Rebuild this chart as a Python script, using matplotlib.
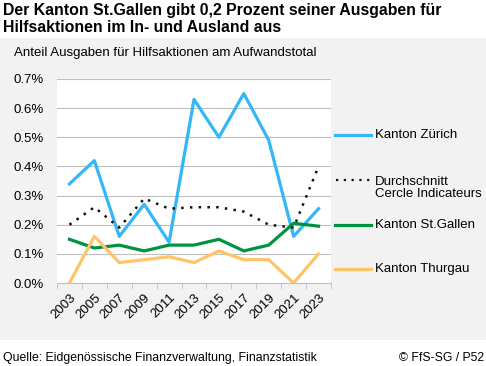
import matplotlib
matplotlib.use("Agg")
import matplotlib.pyplot as plt
from matplotlib.patches import Rectangle
from matplotlib.ticker import FuncFormatter, MultipleLocator
import numpy as np

plt.rcParams["font.family"] = ["Liberation Sans", "DejaVu Sans"]

# ── Data (share of total expenditure, in %) ──────────────────────────────────
years = ["2003", "2005", "2007", "2009", "2011", "2013", "2015", "2017",
         "2019", "2021", "2023"]
zuerich = [0.34, 0.42, 0.16, 0.27, 0.14, 0.63, 0.50, 0.65, 0.49, 0.16, 0.255]
cercle = [0.20, 0.26, 0.19, 0.29, 0.255, 0.26, 0.26, 0.245, 0.20, 0.19, 0.40]
stgallen = [0.15, 0.12, 0.13, 0.11, 0.13, 0.13, 0.15, 0.11, 0.13, 0.205, 0.195]
thurgau = [0.00, 0.16, 0.07, 0.08, 0.09, 0.07, 0.11, 0.08, 0.08, 0.00, 0.10]

C_ZH = "#33b7f7"
C_CI = "#111111"
C_SG = "#00923f"
C_TG = "#ffc466"
BG = "#f2f2f2"
FS = 9.5

W, H = 486, 366
fig = plt.figure(figsize=(W / 100, H / 100), dpi=100)
fig.patch.set_facecolor("white")


def fx(px):
    return px / W


def fy(py):
    return 1 - py / H


# grey panel behind the chart
fig.patches.append(Rectangle((0, fy(340)), 1, (340 - 38) / H,
                             transform=fig.transFigure, facecolor=BG,
                             edgecolor="none", zorder=-5))

fig.text(fx(3), fy(10), "Der Kanton St.Gallen gibt 0,2 Prozent seiner Ausgaben für",
         fontsize=11.4, fontweight="bold", va="center", ha="left")
fig.text(fx(3), fy(27), "Hilfsaktionen im In- und Ausland aus",
         fontsize=11.4, fontweight="bold", va="center", ha="left")
fig.text(fx(14), fy(53), "Anteil Ausgaben für Hilfsaktionen am Aufwandstotal",
         fontsize=FS, va="center", ha="left")

ax = fig.add_axes([fx(57), fy(283), fx(331 - 57), (283 - 79) / H], zorder=2)
ax.set_facecolor("white")

x = np.arange(len(years))
ax.plot(x, zuerich, color=C_ZH, lw=2.3, zorder=3)
ax.plot(x, cercle, color=C_CI, lw=1.8, ls=(0, (1, 2.5)), zorder=4)
ax.plot(x, stgallen, color=C_SG, lw=2.3, zorder=3)
ax.plot(x, thurgau, color=C_TG, lw=2.3, zorder=3)

ax.set_xlim(-0.5, len(years) - 0.5)
ax.set_ylim(0, 0.7)
ax.yaxis.set_major_locator(MultipleLocator(0.1))
ax.yaxis.set_major_formatter(FuncFormatter(lambda v, p: f"{v:.1f}%"))
ax.grid(axis="y", color="#bfbfbf", lw=0.8, zorder=0)
ax.set_axisbelow(True)

ax.set_xticks(x)
ax.set_xticklabels(years, rotation=45, ha="right", va="top",
                   rotation_mode="anchor")
ax.set_xticks(np.arange(-0.5, len(years)), minor=True)
ax.tick_params(axis="x", which="major", length=0, pad=6, labelsize=FS)
ax.tick_params(axis="x", which="minor", length=4, color="#bfbfbf")
ax.tick_params(axis="y", length=0, labelsize=FS, pad=9.5)

for s in ["top", "right", "left"]:
    ax.spines[s].set_visible(False)
ax.spines["bottom"].set_color("#bfbfbf")

# legend drawn by hand at the right
leg = [("Kanton Zürich", C_ZH, "-", 135, 135),
       ("Durchschnitt\nCercle Indicateurs", C_CI, ":", 180, 188),
       ("Kanton St.Gallen", C_SG, "-", 225, 225),
       ("Kanton Thurgau", C_TG, "-", 269, 269)]
for label, col, style, ly, ty in leg:
    if style == "-":
        fig.add_artist(plt.Line2D([fx(335), fx(371)], [fy(ly), fy(ly)],
                                  color=col, lw=2.3, transform=fig.transFigure))
    else:
        fig.add_artist(plt.Line2D([fx(336), fx(371)], [fy(ly), fy(ly)],
                                  color=col, lw=1.6, ls=(0, (1, 2.5)),
                                  transform=fig.transFigure))
    fig.text(fx(375), fy(ty), label, fontsize=FS, va="center", ha="left",
             linespacing=1.1)

fig.text(fx(3), fy(358), "Quelle: Eidgenössische Finanzverwaltung, Finanzstatistik",
         fontsize=8.8, va="center", ha="left")
fig.text(fx(484), fy(358), "© FfS-SG / P52", fontsize=8.8, va="center", ha="right")

fig.savefig("out.png", dpi=100, facecolor="white")
